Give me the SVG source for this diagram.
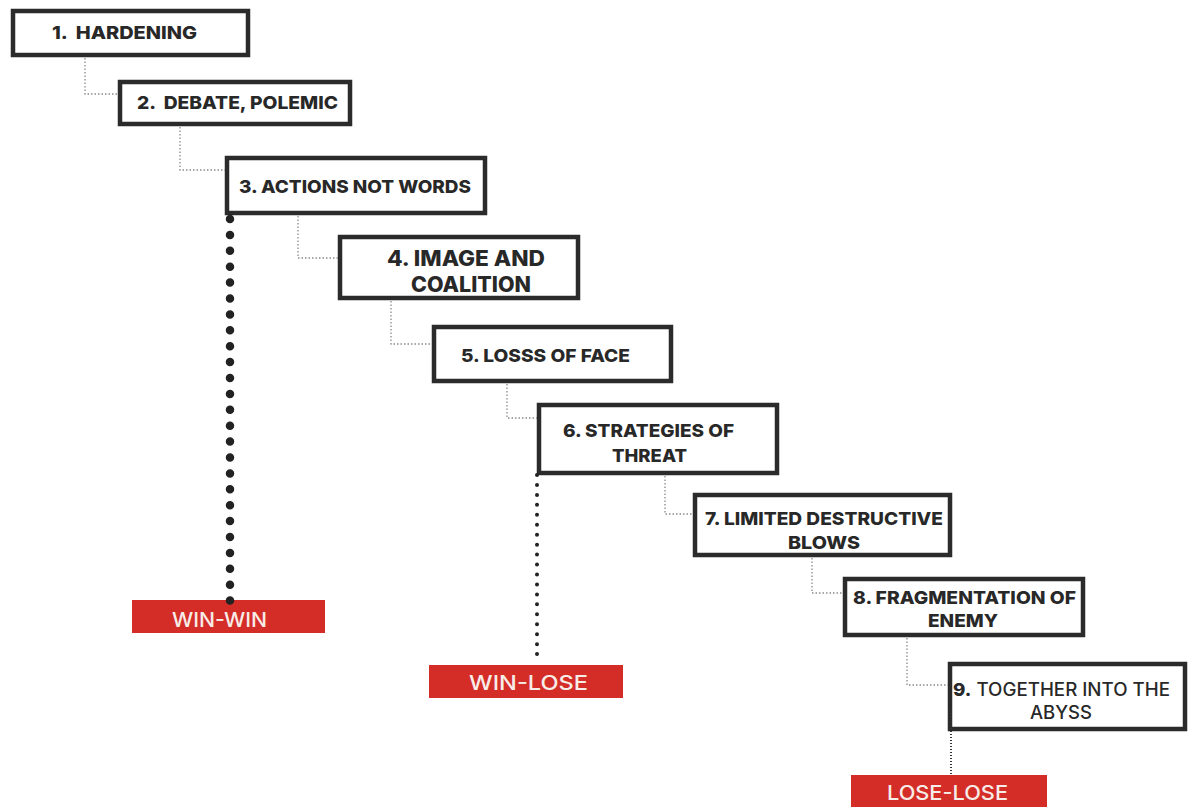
<svg xmlns="http://www.w3.org/2000/svg" width="1191" height="807" viewBox="0 0 1191 807">
<style>
.box{fill:#fff;stroke:#2b2b2b;stroke-width:4.5}
.t{font-family:Inter,"Open Sans","Liberation Sans",sans-serif;font-weight:800;fill:#282828;font-size:18px}
.m{font-weight:500}
.red{fill:#d42d27}
.lt{font-family:Inter,"Open Sans","Liberation Sans",sans-serif;font-weight:500;fill:#f7ece8;font-size:20px}
.conn{fill:none;stroke:#8a8a8a;stroke-width:1.3;stroke-dasharray:1.5 2}
</style>
<rect width="1191" height="807" fill="#fff"/>
<g id="n1"><rect class="box" x="13" y="11" width="235" height="44"/><text class="t" x="52" y="39" textLength="145" lengthAdjust="spacingAndGlyphs" xml:space="preserve">1.  HARDENING</text></g>
<g id="n2"><rect class="box" x="120" y="82" width="230" height="42"/><text class="t" x="137" y="109" textLength="201" lengthAdjust="spacingAndGlyphs" xml:space="preserve">2.  DEBATE, POLEMIC</text></g>
<g id="n3"><rect class="box" x="227" y="158" width="258" height="55"/><text class="t" x="239" y="193" textLength="232" lengthAdjust="spacingAndGlyphs">3. ACTIONS NOT WORDS</text></g>
<g id="n4"><rect class="box" x="340" y="237" width="238" height="61"/><text class="t" x="387" y="266" textLength="158" lengthAdjust="spacingAndGlyphs" style="font-size:21px">4. IMAGE AND</text><text class="t" x="411" y="292" textLength="120" lengthAdjust="spacingAndGlyphs" style="font-size:21px">COALITION</text></g>
<g id="n5"><rect class="box" x="434" y="327" width="237" height="54"/><text class="t" x="461" y="362" textLength="169" lengthAdjust="spacingAndGlyphs">5. LOSSS OF FACE</text></g>
<g id="n6"><rect class="box" x="539" y="405" width="238" height="68"/><text class="t" x="563" y="437" textLength="171" lengthAdjust="spacingAndGlyphs">6. STRATEGIES OF</text><text class="t" x="612" y="462" textLength="75" lengthAdjust="spacingAndGlyphs">THREAT</text></g>
<g id="n7"><rect class="box" x="695" y="495" width="255" height="60"/><text class="t" x="705" y="525" textLength="238" lengthAdjust="spacingAndGlyphs">7. LIMITED DESTRUCTIVE</text><text class="t" x="788" y="549" textLength="72" lengthAdjust="spacingAndGlyphs">BLOWS</text></g>
<g id="n8"><rect class="box" x="845" y="579" width="238" height="56"/><text class="t" x="853" y="604" textLength="223" lengthAdjust="spacingAndGlyphs">8. FRAGMENTATION OF</text><text class="t" x="928" y="627" textLength="70" lengthAdjust="spacingAndGlyphs">ENEMY</text></g>
<g id="n9"><rect class="box" x="950" y="664" width="235" height="65"/><text class="t" x="953" y="696" textLength="217" lengthAdjust="spacingAndGlyphs">9.<tspan class="m"> TOGETHER INTO THE</tspan></text><text class="t m" x="1030" y="719" textLength="62" lengthAdjust="spacingAndGlyphs">ABYSS</text></g>
<g id="winwin"><rect class="red" x="132" y="600" width="193" height="33"/><text class="lt" x="172" y="627" textLength="95" lengthAdjust="spacingAndGlyphs">WIN-WIN</text></g>
<g id="winlose"><rect class="red" x="429" y="665" width="194" height="33"/><text class="lt" x="469" y="690" textLength="119" lengthAdjust="spacingAndGlyphs">WIN-LOSE</text></g>
<g id="loselose"><rect class="red" x="851" y="775" width="196" height="32"/><text class="lt" x="887" y="800" textLength="121" lengthAdjust="spacingAndGlyphs">LOSE-LOSE</text></g>
<g id="connectors">
<path class="conn" d="M85 58 V94 H118"/>
<path class="conn" d="M180 127 V170 H225"/>
<path class="conn" d="M298 216 V258 H338"/>
<path class="conn" d="M391 301 V344 H432"/>
<path class="conn" d="M507 384 V418 H537"/>
<path class="conn" d="M665 476 V514 H693"/>
<path class="conn" d="M812 558 V593 H843"/>
<path class="conn" d="M907 638 V685 H948"/>
<path d="M230 219 V602" fill="none" stroke="#222" stroke-width="8.5" stroke-linecap="round" stroke-dasharray="0 15.9"/>
<path d="M537 475 V656" fill="none" stroke="#222" stroke-width="4" stroke-linecap="round" stroke-dasharray="0 9.95"/>
<path d="M951 710 V775" fill="none" stroke="#333" stroke-width="2" stroke-dasharray="1 2"/>
</g>
</svg>
